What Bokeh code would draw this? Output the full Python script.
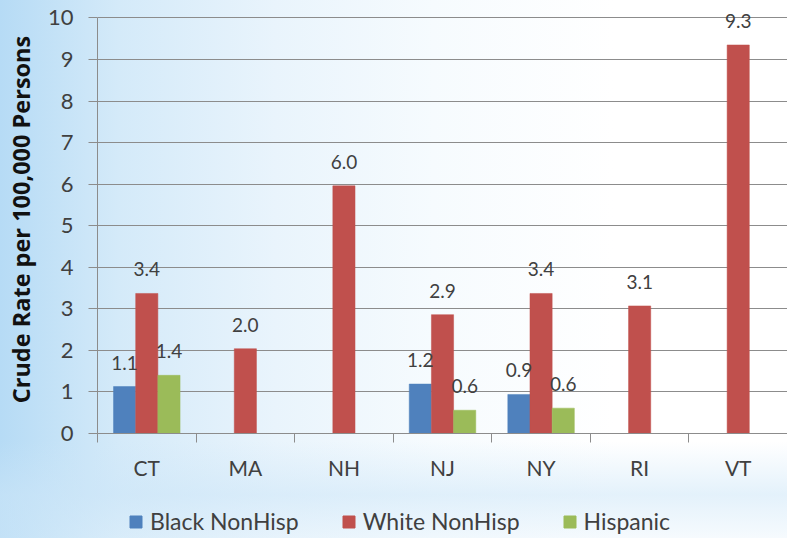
from bokeh.plotting import figure
from bokeh.models import ColumnDataSource, Range1d, FixedTicker, Legend, LegendItem, LabelSet
from bokeh.layouts import column
from bokeh.transform import dodge
from bokeh.core.properties import value
from bokeh.embed import file_html
from bokeh.resources import INLINE

states = ["CT", "MA", "NH", "NJ", "NY", "RI", "VT"]
black_nonhisp = [1.13, None, None, 1.19, 0.94, None, None]
white_nonhisp = [3.37, 2.04, 5.96, 2.86, 3.37, 3.07, 9.35]
hispanic = [1.40, None, None, 0.56, 0.61, None, None]
y_ticks = [0, 1, 2, 3, 4, 5, 6, 7, 8, 9, 10]

FONT = "Lato"
TXT = "#404040"


def make_source(vals):
    xi = [i for i, v in enumerate(vals) if v is not None]
    ys = [v for v in vals if v is not None]
    return ColumnDataSource(dict(xi=xi, y=ys, lab=[f"{v:.1f}" for v in ys]))


p = figure(width=787, height=490, x_range=Range1d(-0.5, 6.5), y_range=Range1d(0, 10.3),
           output_backend="svg", toolbar_location=None,
           min_border_left=97, min_border_right=0, min_border_top=5, min_border_bottom=57)
p.background_fill_alpha = 0
p.border_fill_alpha = 0
p.outline_line_color = None

series = [("Black NonHisp", black_nonhisp, "#4F81BD", -0.225),
          ("White NonHisp", white_nonhisp, "#C0504D", 0.0),
          ("Hispanic", hispanic, "#9BBB59", 0.225)]

sources = []
for name, vals, col, off in series:
    src = make_source(vals)
    sources.append(src)
    p.vbar(x=dodge("xi", off, range=p.x_range), top="y", width=0.225, source=src,
           fill_color=col, line_color=col, line_width=0.5)
    lbl = LabelSet(x=dodge("xi", off, range=p.x_range), y="y", text="lab", source=src,
                   y_offset=24, text_align="center", text_baseline="middle",
                   text_font=value(FONT), text_font_size=value("19px"), text_color=value(TXT))
    p.add_layout(lbl)

# x axis
p.xaxis.ticker = FixedTicker(ticks=list(range(len(states))),
                             minor_ticks=[i - 0.5 for i in range(len(states) + 1)])
p.xaxis.major_label_overrides = {i: s for i, s in enumerate(states)}
p.xaxis.major_tick_line_color = None
p.xaxis.major_tick_out = 0
p.xaxis.major_tick_in = 0
p.xaxis.minor_tick_line_color = "#8c8c8c"
p.xaxis.minor_tick_out = 9
p.xaxis.minor_tick_in = 0
p.xaxis.axis_line_color = "#8c8c8c"
p.xaxis.major_label_standoff = 12
p.xaxis.major_label_text_font = FONT
p.xaxis.major_label_text_font_size = "21px"
p.xaxis.major_label_text_color = TXT
p.xgrid.grid_line_color = None

# y axis
p.yaxis.ticker = FixedTicker(ticks=y_ticks)
p.yaxis.bounds = (0, 10)
p.yaxis.major_tick_line_color = "#8c8c8c"
p.yaxis.major_tick_out = 9
p.yaxis.major_tick_in = 0
p.yaxis.minor_tick_line_color = None
p.yaxis.axis_line_color = "#8c8c8c"
p.yaxis.major_label_standoff = 15
p.yaxis.major_label_text_font = FONT
p.yaxis.major_label_text_font_size = "22px"
p.yaxis.major_label_text_color = TXT
p.yaxis.axis_label = "Crude Rate per 100,000 Persons"
p.yaxis.axis_label_text_font = "Open Sans"
p.yaxis.axis_label_text_font_style = "bold"
p.yaxis.axis_label_text_font_size = "23.5px"
p.yaxis.axis_label_text_color = "#111111"
p.yaxis.axis_label_standoff = 8
p.ygrid.grid_line_color = "#8c8c8c"
p.ygrid.grid_line_width = 1

# legend strip below the chart (bars drawn out of view, only used for legend swatches)
p2 = figure(width=787, height=48, x_range=Range1d(0, 1), y_range=Range1d(100, 101),
            output_backend="svg", toolbar_location=None, min_border=0)
p2.background_fill_alpha = 0
p2.border_fill_alpha = 0
p2.outline_line_color = None
p2.axis.visible = False
p2.grid.visible = False
items = []
for (name, vals, col, off), src in zip(series, sources):
    r = p2.vbar(x="xi", top="y", width=0.1, source=src, fill_color=col, line_color=col)
    items.append(LegendItem(label=name, renderers=[r]))
legend = Legend(items=items, location=(31, 3), orientation="horizontal", padding=0, margin=0,
                border_line_color=None, background_fill_alpha=0,
                glyph_width=15, glyph_height=15, label_standoff=7, spacing=42,
                label_text_font=FONT, label_text_font_size="23px", label_text_color=TXT)
p2.add_layout(legend, "center")

layout = column(p, p2, spacing=0)
layout.styles = {"background": ("linear-gradient(to bottom, rgba(255,255,255,0) 82%, rgba(205,230,248,0.55) 92%, rgba(225,240,251,0.3) 100%), "
                                "linear-gradient(to right, #b6dbf5 0%, #d4eaf9 15%, #e9f4fc 35%, #f6fbfe 55%, #ffffff 78%)")}

open("out.html", "w").write(file_html(layout, INLINE))
